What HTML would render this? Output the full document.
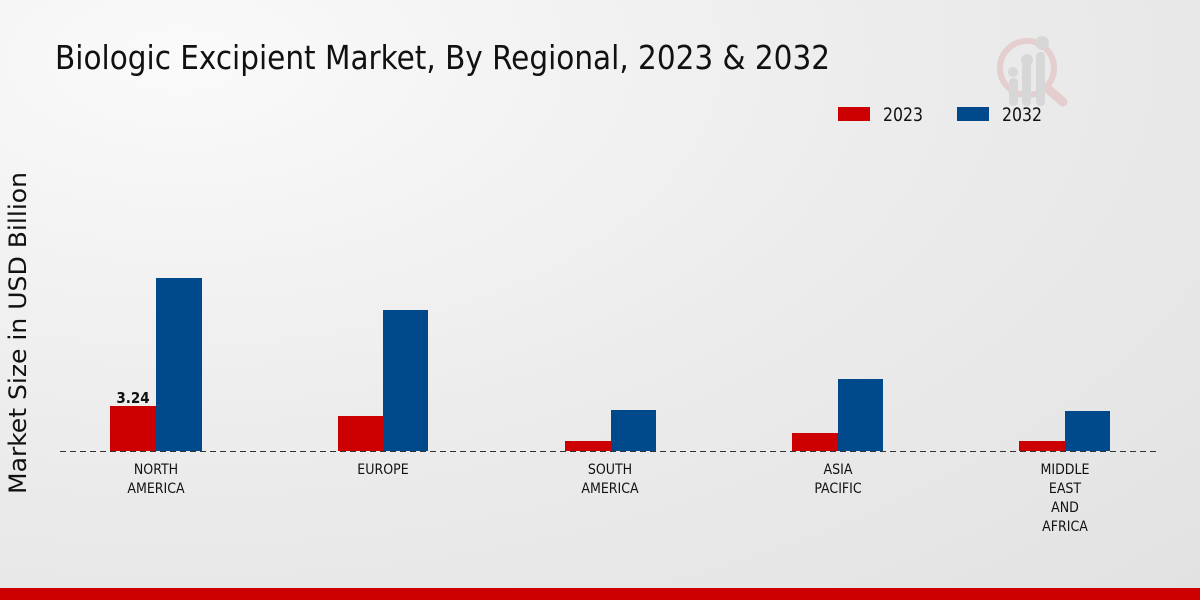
<!DOCTYPE html>
<html><head><style>
html,body{margin:0;padding:0}
body{width:1200px;height:600px;position:relative;overflow:hidden;font-family:"DejaVu Sans Condensed","Liberation Sans Narrow","Liberation Sans",sans-serif;
background:radial-gradient(ellipse at 15% 10%,#fafafa 0%,#ececec 50%,#e2e2e2 100%);}
</style></head><body>
<svg width="1200" height="600" style="position:absolute;left:0;top:0">
<text x="55" y="69" font-size="33" textLength="775" lengthAdjust="spacingAndGlyphs" fill="#111" font-family="DejaVu Sans Condensed, Liberation Sans Narrow, sans-serif">Biologic Excipient Market, By Regional, 2023 &amp; 2032</text>
<g opacity="0.55">
<circle cx="1027" cy="68" r="27" fill="none" stroke="#e0b8b8" stroke-width="6"/>
<line x1="1047" y1="88" x2="1063" y2="102" stroke="#e0b8b8" stroke-width="9" stroke-linecap="round"/>
<rect x="1009" y="78" width="9" height="28" rx="4" fill="#c8c8c8"/>
<rect x="1022" y="62" width="9" height="44" rx="4" fill="#c8c8c8"/>
<rect x="1036" y="52" width="9" height="54" rx="4" fill="#c8c8c8"/>
<circle cx="1013" cy="72" r="5" fill="#c8c8c8"/><circle cx="1027" cy="60" r="6" fill="#c8c8c8"/><circle cx="1042" cy="43" r="7" fill="#c8c8c8"/>
</g>
<rect x="838" y="107" width="32" height="14" fill="#cc0000"/>
<text x="883" y="121" font-size="19" textLength="40" lengthAdjust="spacingAndGlyphs" fill="#111">2023</text>
<rect x="957" y="107" width="32" height="14" fill="#004a8c"/>
<text x="1002" y="121" font-size="19" textLength="40" lengthAdjust="spacingAndGlyphs" fill="#111">2032</text>
<text transform="translate(26,333) rotate(-90)" text-anchor="middle" font-size="24" textLength="322" lengthAdjust="spacingAndGlyphs" fill="#111">Market Size in USD Billion</text>
<g fill="#cc0000">
<rect x="110" y="406" width="46" height="45"/>
<rect x="338" y="416" width="45" height="35"/>
<rect x="565" y="441" width="46" height="10"/>
<rect x="792" y="433" width="46" height="18"/>
<rect x="1019" y="441" width="46" height="10"/>
</g>
<g fill="#004a8c">
<rect x="156" y="278" width="46" height="173"/>
<rect x="383" y="310" width="45" height="141"/>
<rect x="611" y="410" width="45" height="41"/>
<rect x="838" y="379" width="45" height="72"/>
<rect x="1065" y="411" width="45" height="40"/>
</g>
<line x1="60" y1="451.5" x2="1160" y2="451.5" stroke="#333" stroke-dasharray="6,4" stroke-width="1"/>
<text x="133" y="403" text-anchor="middle" font-size="15" font-weight="bold" fill="#111">3.24</text>
<g font-size="14" fill="#111" text-anchor="middle">
<text x="156" y="474">NORTH</text><text x="156" y="493">AMERICA</text>
<text x="383" y="474">EUROPE</text>
<text x="610" y="474">SOUTH</text><text x="610" y="493">AMERICA</text>
<text x="838" y="474">ASIA</text><text x="838" y="493">PACIFIC</text>
<text x="1065" y="474">MIDDLE</text><text x="1065" y="493">EAST</text><text x="1065" y="512">AND</text><text x="1065" y="531">AFRICA</text>
</g>
<rect x="0" y="588" width="1200" height="12" fill="#cc0000"/>
</svg>
</body></html>
